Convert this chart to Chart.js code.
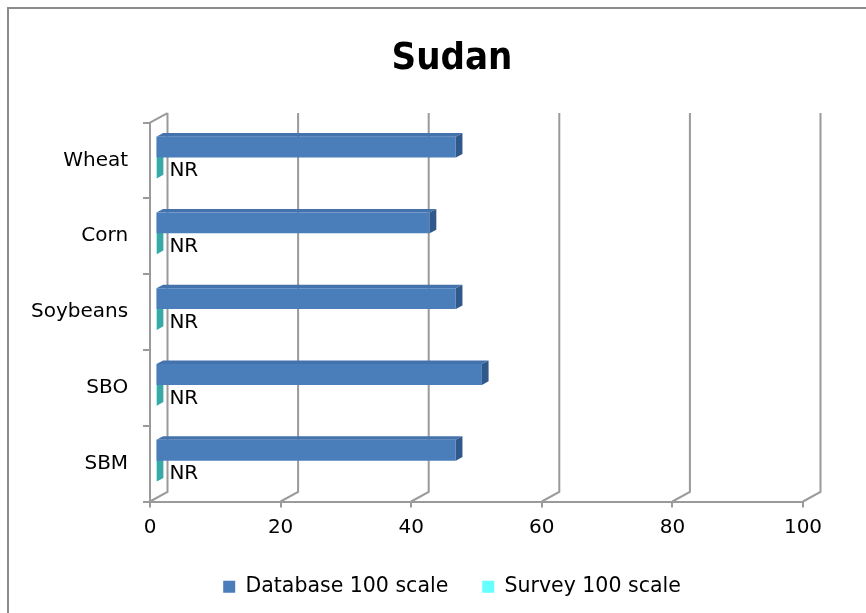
<!DOCTYPE html>
<html>
<head>
<meta charset="utf-8">
<script src="https://cdn.jsdelivr.net/npm/chart.js@4/dist/chart.umd.min.js"></script>
<style>
  html, body { margin: 0; padding: 0; background: #fff; overflow: hidden; }
  #frame { position: absolute; left: 7px; top: 7px; width: 900px; height: 650px;
           border-left: 2px solid #8c8c8c; border-top: 2px solid #8c8c8c; }
  #wrap { position: absolute; left: 0; top: 0; width: 866px; height: 613px; }
</style>
</head>
<body>
<div id="frame"></div>
<div id="wrap"><canvas id="chart"></canvas></div>
<script>
// Scores per commodity, 100-point scale
const categories = ["Wheat", "Corn", "Soybeans", "SBO", "SBM"];
const databaseScores = [46, 42, 46, 50, 46];
const surveyScores = [0.2, 0.2, 0.2, 0.2, 0.2];
const surveyLabels = ["NR", "NR", "NR", "NR", "NR"];
const xTicks = [0, 20, 40, 60, 80, 100];

const FONT = "'DejaVu Sans', sans-serif";
const LINE = "#9a9a9a";

// oblique depth of the plot box, and where the bars sit inside it
const DX = 17.5, DY = -9.5;
const BX = DX * 0.31, BY = DY * 0.31;
const FX = DX * 0.38, FY = DY * 0.38;

const faceColors = [
  { top: "#4472ad", side: "#30588b" },
  { top: "#49d3d0", side: "#3aa8a4" }
];

function poly(ctx, pts, color) {
  ctx.beginPath();
  ctx.moveTo(pts[0][0], pts[0][1]);
  for (let i = 1; i < pts.length; i++) ctx.lineTo(pts[i][0], pts[i][1]);
  ctx.closePath();
  ctx.fillStyle = color;
  ctx.fill();
}

const depth3d = {
  id: "depth3d",
  beforeDatasetsDraw(chart) {
    const { ctx, chartArea, scales } = chart;
    const { left, top, bottom } = chartArea;
    ctx.save();
    ctx.strokeStyle = LINE;
    ctx.lineWidth = 2;
    // back wall gridlines with their floor diagonals
    xTicks.forEach(v => {
      const px = scales.x.getPixelForValue(v);
      ctx.beginPath();
      ctx.moveTo(px + DX, top + DY);
      ctx.lineTo(px + DX, bottom + DY);
      ctx.lineTo(px, bottom);
      ctx.stroke();
    });
    // top edge of the left wall
    ctx.beginPath();
    ctx.moveTo(left, top);
    ctx.lineTo(left + DX, top + DY);
    ctx.stroke();

    // bars are pushed back into the box; top and side faces first
    ctx.translate(BX, BY);
    for (let d = chart.data.datasets.length - 1; d >= 0; d--) {
      const meta = chart.getDatasetMeta(d);
      meta.data.forEach(el => {
        const p = el.getProps(["x", "y", "base", "height"], true);
        const t = p.y - p.height / 2, b = p.y + p.height / 2;
        const l = Math.min(p.base, p.x), r = Math.max(p.base, p.x);
        poly(ctx, [[l, t], [r, t], [r + FX, t + FY], [l + FX, t + FY]], faceColors[d].top);
        poly(ctx, [[r, t], [r + FX, t + FY], [r + FX, b + FY], [r, b]], faceColors[d].side);
      });
    }
  },
  afterDatasetsDraw(chart) {
    const { ctx } = chart;
    const meta = chart.getDatasetMeta(1);
    ctx.fillStyle = "#000";
    ctx.font = "20px " + FONT;
    ctx.textAlign = "left";
    ctx.textBaseline = "middle";
    meta.data.forEach((el, i) => {
      ctx.fillText(surveyLabels[i], el.x + FX + 6, el.y + 3);
    });
    ctx.restore();
  }
};

new Chart(document.getElementById("chart"), {
  type: "bar",
  data: {
    labels: categories,
    datasets: [
      { label: "Database 100 scale", data: databaseScores, backgroundColor: "#4a7ebb",
        barPercentage: 1, categoryPercentage: 0.55, clip: false },
      { label: "Survey 100 scale", data: surveyScores, backgroundColor: "#66ffff",
        barPercentage: 1, categoryPercentage: 0.55, clip: false }
    ]
  },
  options: {
    indexAxis: "y",
    responsive: true,
    maintainAspectRatio: false,
    animation: false,
    layout: { padding: { left: 101, right: 63, top: 8, bottom: 6 } },
    scales: {
      x: {
        min: 0, max: 100,
        afterBuildTicks(s) { s.ticks = xTicks.map(v => ({ value: v })); },
        ticks: { font: { family: FONT, size: 20 }, color: "#000", padding: 8 },
        grid: { drawOnChartArea: false, tickLength: 6, color: LINE, lineWidth: 2 },
        border: { color: LINE, width: 2 },
        afterFit(s) { s.height = 41; }
      },
      y: {
        // labels hang out to the left of the narrow axis box, right-aligned
        ticks: { font: { family: FONT, size: 20 }, color: "#000",
                 mirror: true, crossAlign: "far", padding: -119 },
        grid: { offset: true, drawOnChartArea: false, tickLength: 7, color: LINE, lineWidth: 2 },
        border: { color: LINE, width: 2 },
        afterFit(s) { s.width = 49; }
      }
    },
    plugins: {
      title: {
        display: true, text: "Sudan", color: "#000",
        font: { family: "'DejaVu Sans Condensed', 'DejaVu Sans', sans-serif", size: 38, weight: "bold" },
        padding: { top: 28, bottom: 41 }
      },
      legend: {
        position: "bottom",
        labels: { boxWidth: 12, boxHeight: 12, padding: 34, color: "#000",
                  font: { family: FONT, size: 20.5 } }
      },
      tooltip: { enabled: false }
    }
  },
  plugins: [depth3d]
});
</script>
</body>
</html>
